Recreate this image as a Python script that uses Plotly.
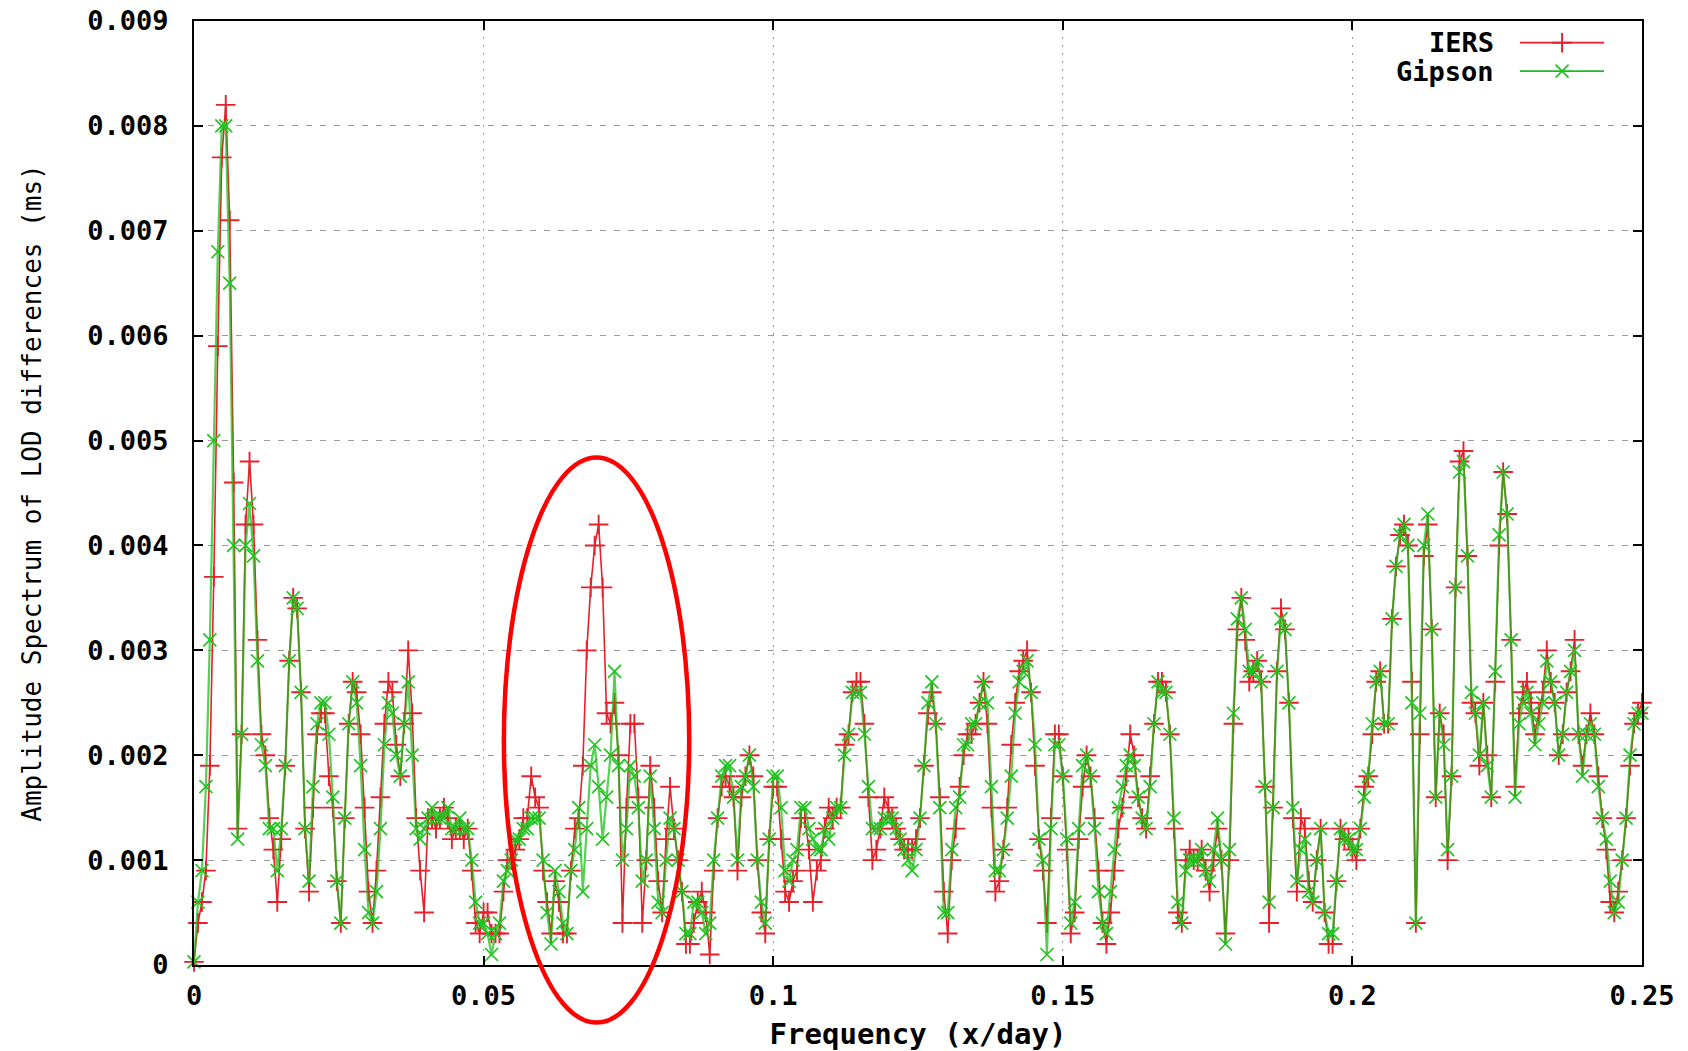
import plotly.graph_objects as go

# ---------------- data ----------------
FREQ_MAX = 0.25
N_STEPS = 365          # frequency grid: 366 points from 0 to 0.25

IERS = [
    0.00003, 0.0004, 0.0006, 0.0009, 0.0019, 0.0037, 0.0059, 0.0077, 0.0082, 0.0071,
    0.0046, 0.0013, 0.0022, 0.0042, 0.0048, 0.0042, 0.0031, 0.0022, 0.0020, 0.0014,
    0.0011, 0.0006, 0.0012, 0.0019, 0.0029, 0.0035, 0.0034, 0.0026, 0.0013, 0.0007,
    0.0015, 0.0022, 0.0024, 0.0024, 0.0018, 0.0015, 0.0008, 0.0004, 0.0014, 0.0023,
    0.0027, 0.0026, 0.0022, 0.0015, 0.0007, 0.0004, 0.0009, 0.0016, 0.0023, 0.0027,
    0.0026, 0.0021, 0.0018, 0.0023, 0.0030, 0.0024, 0.0014, 0.0009, 0.0005, 0.0014,
    0.0014, 0.0013, 0.0014, 0.0015, 0.0014, 0.0012, 0.0013, 0.0013, 0.0012, 0.0013,
    0.0009, 0.0004, 0.0003, 0.0005, 0.0005, 0.0003, 0.0003, 0.0003, 0.0007, 0.0010,
    0.0010, 0.0011, 0.0012, 0.0014, 0.0014, 0.0018, 0.0016, 0.0015, 0.0009, 0.0006,
    0.0003, 0.0008, 0.0006, 0.0003, 0.0003, 0.0009, 0.0013, 0.0014, 0.0019, 0.0030,
    0.0036, 0.0040, 0.0042, 0.0036, 0.0024, 0.0023, 0.0025, 0.0020, 0.0004, 0.0015,
    0.0023, 0.0023, 0.0016, 0.0004, 0.0010, 0.0019, 0.0015, 0.0008, 0.0005, 0.0012,
    0.0017, 0.0013, 0.0010, 0.0007, 0.0002, 0.0002, 0.0004, 0.0006, 0.0007, 0.0005,
    0.0001, 0.0009, 0.0014, 0.0017, 0.0018, 0.0017, 0.0016, 0.0009, 0.0016, 0.0018,
    0.0020, 0.0018, 0.0010, 0.0005, 0.0003, 0.0012, 0.0017, 0.0017, 0.0012, 0.0007,
    0.0006, 0.0008, 0.0009, 0.0014, 0.0014, 0.0011, 0.0006, 0.0009, 0.0010, 0.0013,
    0.0015, 0.0014, 0.0015, 0.0015, 0.0021, 0.0022, 0.0026, 0.0027, 0.0027, 0.0023,
    0.0016, 0.0010, 0.0011, 0.0013, 0.0016, 0.0015, 0.0014, 0.0013, 0.0012, 0.0011,
    0.0011, 0.0011, 0.0012, 0.0014, 0.0019, 0.0024, 0.0026, 0.0023, 0.0016, 0.0007,
    0.0003, 0.0010, 0.0013, 0.0017, 0.0020, 0.0022, 0.0022, 0.0023, 0.0025, 0.0027,
    0.0023, 0.0015, 0.0007, 0.0008, 0.0011, 0.0015, 0.0021, 0.0025, 0.0028, 0.0029,
    0.0030, 0.0026, 0.0019, 0.0012, 0.0009, 0.0004, 0.0014, 0.0022, 0.0022, 0.0018,
    0.0011, 0.0003, 0.0005, 0.0012, 0.0017, 0.0020, 0.0018, 0.0014, 0.0009, 0.0004,
    0.0002, 0.0005, 0.0009, 0.0013, 0.0015, 0.0018, 0.0022, 0.0020, 0.0016, 0.0014,
    0.0013, 0.0018, 0.0023, 0.0027, 0.0027, 0.0026, 0.0022, 0.0013, 0.0005, 0.0004,
    0.0010, 0.0011, 0.0010, 0.0010, 0.0011, 0.0009, 0.0007, 0.0010, 0.0013, 0.0010,
    0.0003, 0.0010, 0.0023, 0.0032, 0.0035, 0.0031, 0.0027, 0.0028, 0.0029, 0.0027,
    0.0017, 0.0004, 0.0015, 0.0028, 0.0034, 0.0032, 0.0025, 0.0014, 0.0007, 0.0014,
    0.0013, 0.0008, 0.0006, 0.0010, 0.0013, 0.0005, 0.0002, 0.0002, 0.0008, 0.0013,
    0.0012, 0.0012, 0.0011, 0.0010, 0.0013, 0.0017, 0.0018, 0.0022, 0.0027, 0.0028,
    0.0023, 0.0023, 0.0033, 0.0038, 0.0041, 0.0042, 0.0040, 0.0027, 0.0004, 0.0022,
    0.0039, 0.0042, 0.0032, 0.0016, 0.0024, 0.0022, 0.0010, 0.0018, 0.0036, 0.0048,
    0.0049, 0.0039, 0.0025, 0.0024, 0.0019, 0.0025, 0.0020, 0.0016, 0.0027, 0.0040,
    0.0047, 0.0043, 0.0031, 0.0017, 0.0024, 0.0026, 0.0027, 0.0025, 0.0022, 0.0024,
    0.0026, 0.0030, 0.0027, 0.0025, 0.0020, 0.0022, 0.0026, 0.0028, 0.0031, 0.0022,
    0.0019, 0.0022, 0.0024, 0.0022, 0.0018, 0.0014, 0.0011, 0.0006, 0.0005, 0.0007,
    0.0010, 0.0014, 0.0019, 0.0023, 0.0024, 0.0025,
]

GIPSON = [
    0.00003, 0.0006, 0.0009, 0.0017, 0.0031, 0.0050, 0.0068, 0.0080, 0.0080, 0.0065,
    0.0040, 0.0012, 0.0022, 0.0040, 0.0044, 0.0039, 0.0029, 0.0021, 0.0019, 0.0013,
    0.0013, 0.0009, 0.0013, 0.0019, 0.0029, 0.0035, 0.0034, 0.0026, 0.0013, 0.0008,
    0.0017, 0.0023, 0.0025, 0.0025, 0.0022, 0.0016, 0.0008, 0.0004, 0.0014, 0.0023,
    0.0027, 0.0025, 0.0019, 0.0011, 0.0005, 0.0004, 0.0007, 0.0013, 0.0021, 0.0025,
    0.0024, 0.0020, 0.0018, 0.0023, 0.0027, 0.0020, 0.0013, 0.0012, 0.0013, 0.0014,
    0.0015, 0.0014, 0.0014, 0.0014, 0.0015, 0.0013, 0.0013, 0.0014, 0.0013, 0.0013,
    0.0010, 0.0006, 0.0004, 0.0004, 0.0003, 0.0001, 0.0003, 0.0004, 0.0008, 0.0009,
    0.0010, 0.0012, 0.0012, 0.0013, 0.0013, 0.0014, 0.0014, 0.0014, 0.0010, 0.0005,
    0.0002, 0.0009, 0.0007, 0.0004, 0.0003, 0.0009, 0.0011, 0.0015, 0.0007, 0.0013,
    0.0019, 0.0021, 0.0017, 0.0012, 0.0016, 0.0020, 0.0028, 0.0019, 0.0010, 0.0013,
    0.0019, 0.0018, 0.0015, 0.0008, 0.0010, 0.0018, 0.0013, 0.0006, 0.0005, 0.0010,
    0.0014, 0.0013, 0.0010, 0.0007, 0.0003, 0.0003, 0.0006, 0.0006, 0.0005, 0.0003,
    0.0004, 0.0010, 0.0014, 0.0018, 0.0019, 0.0019, 0.0016, 0.0010, 0.0017, 0.0018,
    0.0020, 0.0017, 0.0010, 0.0006, 0.0004, 0.0012, 0.0018, 0.0018, 0.0015, 0.0009,
    0.0008, 0.0010, 0.0011, 0.0015, 0.0015, 0.0013, 0.0012, 0.0011, 0.0011, 0.0013,
    0.0012, 0.0014, 0.0015, 0.0015, 0.0020, 0.0022, 0.0026, 0.0026, 0.0026, 0.0022,
    0.0017, 0.0013, 0.0013, 0.0013, 0.0014, 0.0014, 0.0014, 0.0013, 0.0012, 0.0011,
    0.0010, 0.0009, 0.0011, 0.0014, 0.0019, 0.0025, 0.0027, 0.0023, 0.0015, 0.0005,
    0.0005, 0.0011, 0.0015, 0.0016, 0.0021, 0.0021, 0.0023, 0.0023, 0.0025, 0.0027,
    0.0025, 0.0017, 0.0009, 0.0009, 0.0011, 0.0014, 0.0018, 0.0024, 0.0027, 0.0028,
    0.0029, 0.0026, 0.0021, 0.0012, 0.0010, 0.0001, 0.0013, 0.0021, 0.0021, 0.0018,
    0.0012, 0.0004, 0.0006, 0.0013, 0.0019, 0.0020, 0.0018, 0.0013, 0.0007, 0.0004,
    0.0003, 0.0007, 0.0011, 0.0015, 0.0017, 0.0019, 0.0020, 0.0019, 0.0016, 0.0014,
    0.0013, 0.0017, 0.0023, 0.0027, 0.0026, 0.0026, 0.0022, 0.0014, 0.0006, 0.0004,
    0.0009, 0.0010, 0.0010, 0.0010, 0.0011, 0.0009, 0.0008, 0.0011, 0.0014, 0.0010,
    0.0002, 0.0011, 0.0024, 0.0033, 0.0035, 0.0032, 0.0028, 0.0028, 0.0029, 0.0027,
    0.0017, 0.0006, 0.0015, 0.0028, 0.0033, 0.0032, 0.0025, 0.0015, 0.0008, 0.0011,
    0.0012, 0.0007, 0.0006, 0.0010, 0.0013, 0.0005, 0.0003, 0.0003, 0.0008, 0.0013,
    0.0012, 0.0012, 0.0011, 0.0011, 0.0013, 0.0016, 0.0018, 0.0023, 0.0027, 0.0028,
    0.0023, 0.0023, 0.0033, 0.0038, 0.0041, 0.0042, 0.0040, 0.0025, 0.0004, 0.0024,
    0.0040, 0.0043, 0.0032, 0.0016, 0.0024, 0.0021, 0.0011, 0.0018, 0.0036, 0.0047,
    0.0048, 0.0039, 0.0026, 0.0024, 0.0020, 0.0025, 0.0019, 0.0016, 0.0028, 0.0041,
    0.0047, 0.0043, 0.0031, 0.0016, 0.0023, 0.0025, 0.0026, 0.0024, 0.0021, 0.0023,
    0.0025, 0.0029, 0.0027, 0.0025, 0.0020, 0.0022, 0.0026, 0.0028, 0.0030, 0.0022,
    0.0018, 0.0022, 0.0023, 0.0022, 0.0017, 0.0014, 0.0012, 0.0008, 0.0005, 0.0006,
    0.0010, 0.0014, 0.0020, 0.0023, 0.0024, 0.0024,
]

FREQ = [i * FREQ_MAX / N_STEPS for i in range(len(IERS))]

X_TICKS = [0, 0.05, 0.1, 0.15, 0.2, 0.25]
X_TICK_TEXT = ["0", "0.05", "0.1", "0.15", "0.2", "0.25"]
Y_TICKS = [0, 0.001, 0.002, 0.003, 0.004, 0.005, 0.006, 0.007, 0.008, 0.009]
Y_TICK_TEXT = ["0", "0.001", "0.002", "0.003", "0.004", "0.005",
               "0.006", "0.007", "0.008", "0.009"]
SERIES_NAMES = ["IERS", "Gipson"]

# ---------------- styles ----------------
RED = "#e8202a"
GREEN_LINE = "rgba(20,190,20,0.72)"
GREEN_MARK = "#22c422"
MONO = "DejaVu Sans Mono"
TICK_SIZE = 27

fig = go.Figure()

fig.add_trace(go.Scatter(
    x=FREQ, y=IERS, name=SERIES_NAMES[0], mode="lines+markers",
    line=dict(color=RED, width=1.6),
    marker=dict(symbol="cross-thin", size=14, line=dict(width=1.9, color=RED)),
    cliponaxis=False, showlegend=False,
))
fig.add_trace(go.Scatter(
    x=FREQ, y=GIPSON, name=SERIES_NAMES[1], mode="lines+markers",
    line=dict(color=GREEN_LINE, width=2.2),
    marker=dict(symbol="x-thin", size=13, line=dict(width=1.7, color=GREEN_MARK)),
    cliponaxis=False, showlegend=False,
))

# legend samples (gnuplot style: text, then line sample with marker)
LEG_Y = [0.977, 0.947]
fig.add_trace(go.Scatter(
    x=[0.9157, 0.9448, 0.9738], y=[LEG_Y[0]] * 3, mode="lines+markers",
    line=dict(color=RED, width=1.8),
    marker=dict(symbol="cross-thin", size=14, line=dict(width=1.9, color=RED),
                opacity=[0, 1, 0]),
    xaxis="x2", yaxis="y2", showlegend=False, hoverinfo="skip",
))
fig.add_trace(go.Scatter(
    x=[0.9157, 0.9448, 0.9738], y=[LEG_Y[1]] * 3, mode="lines+markers",
    line=dict(color="#1fb81f", width=1.8),
    marker=dict(symbol="x-thin", size=13, line=dict(width=1.7, color=GREEN_MARK),
                opacity=[0, 1, 0]),
    xaxis="x2", yaxis="y2", showlegend=False, hoverinfo="skip",
))

for name, ypos in zip(SERIES_NAMES, LEG_Y):
    fig.add_annotation(
        text=f"<b>{name}</b>", xref="paper", yref="paper", x=0.899, y=ypos,
        xanchor="right", yanchor="middle", showarrow=False,
        font=dict(family=MONO, size=TICK_SIZE, color="black"),
    )

# red ellipse highlighting the region around 0.07 cycles/day
fig.add_shape(
    type="circle", xref="paper", yref="paper",
    x0=0.214, x1=0.342, y0=-0.061, y1=0.5376,
    line=dict(color="#ff0000", width=4.5), layer="above",
)

axis_common = dict(
    showline=True, linecolor="black", linewidth=2, mirror="ticks",
    ticks="inside", ticklen=9, tickwidth=1.5, tickcolor="black",
    showgrid=True, gridcolor="#9a9a9a", gridwidth=1.2,
    zeroline=False, automargin=False, ticklabeloverflow="allow",
    tickfont=dict(family=MONO, size=TICK_SIZE, color="black", weight="bold"),
)

fig.update_layout(
    width=1688, height=1051,
    margin=dict(l=194, r=46, t=21, b=86, autoexpand=False),
    paper_bgcolor="white", plot_bgcolor="white",
    xaxis=dict(
        range=[0, FREQ_MAX], tickmode="array", tickvals=X_TICKS, ticktext=X_TICK_TEXT,
        griddash="2px,6px", ticklabelstandoff=6,
        title=dict(text="<b>Frequency (x/day)</b>", standoff=14,
                   font=dict(family=MONO, size=29, color="black")),
        **axis_common,
    ),
    yaxis=dict(
        range=[0, 0.009], tickmode="array", tickvals=Y_TICKS, ticktext=Y_TICK_TEXT,
        griddash="6px,8px", ticklabelstandoff=18,
        title=dict(text="Amplitude Spectrum of LOD differences (ms)", standoff=38,
                   font=dict(family=MONO, size=26, color="black")),
        **axis_common,
    ),
    xaxis2=dict(overlaying="x", range=[0, 1], visible=False, fixedrange=True),
    yaxis2=dict(overlaying="y", range=[0, 1], visible=False, fixedrange=True),
    showlegend=False,
)

# remove the default 8px body margin so the 1688x1051 figure fills the window
fig.write_html(
    "out.html",
    config=dict(displayModeBar=False),
    post_script="document.body.style.margin='0';"
                "document.body.style.overflow='hidden';",
)
